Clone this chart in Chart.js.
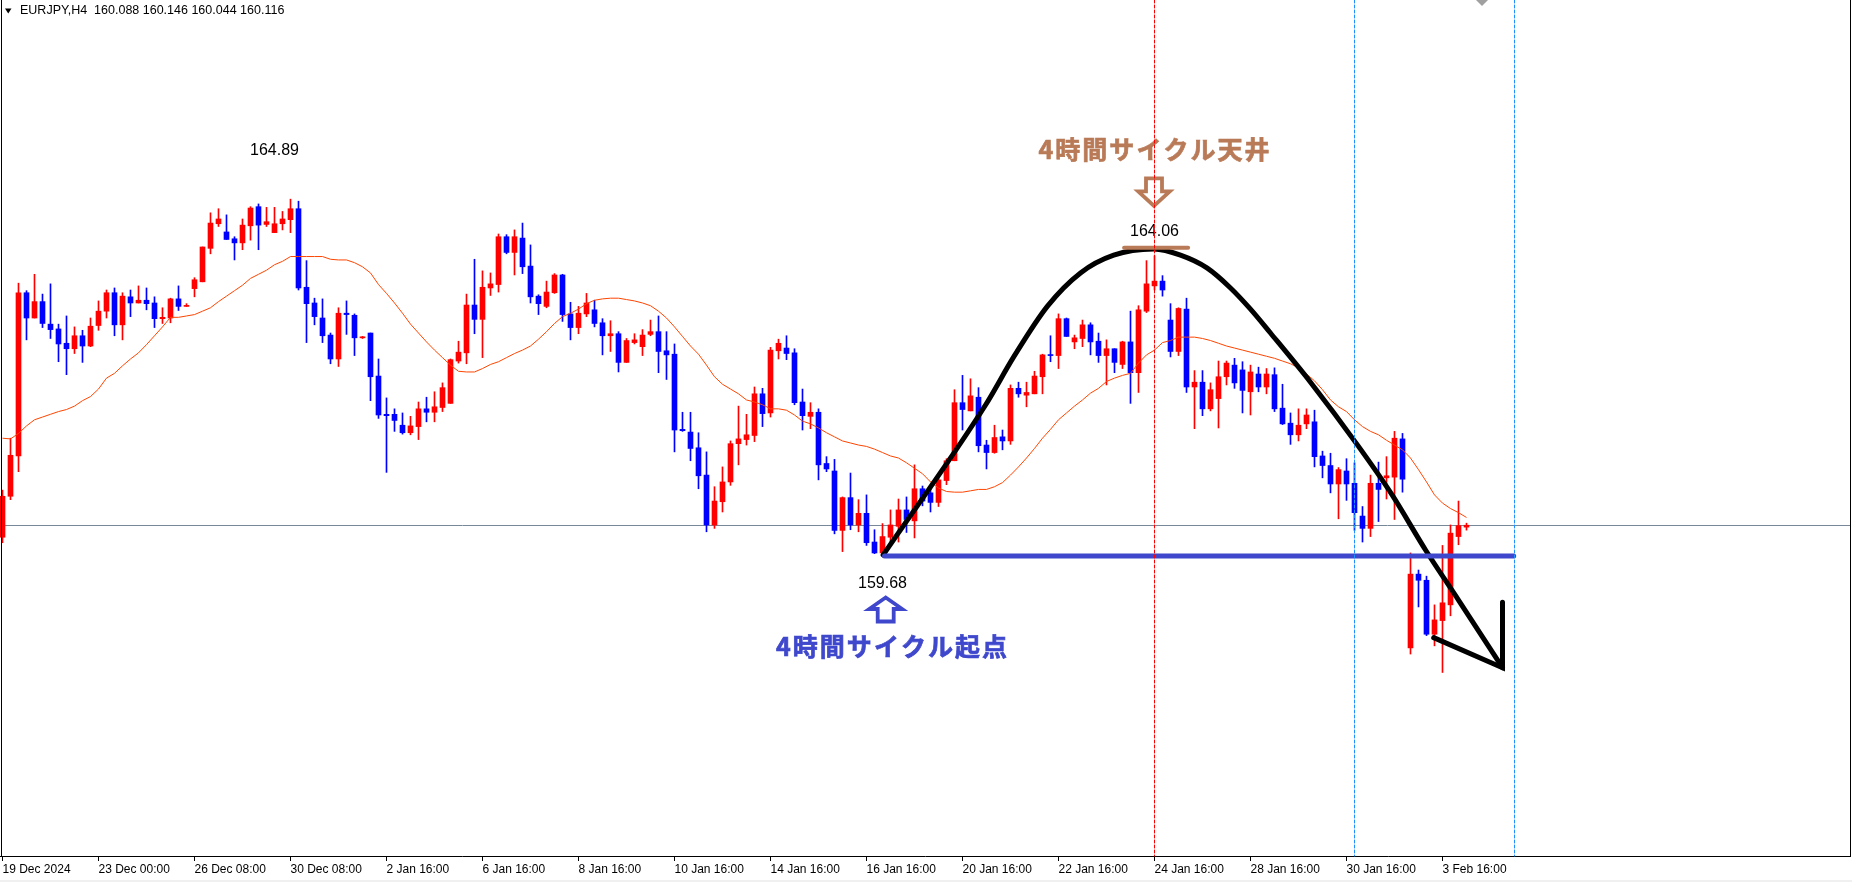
<!DOCTYPE html>
<html>
<head>
<meta charset="utf-8">
<script src="https://cdn.jsdelivr.net/npm/chart.js@4.4.1/dist/chart.umd.min.js"></script>
<style>
html, body { margin: 0; padding: 0; background: #fff; }
#chartBox { position: relative; width: 1852px; height: 882px; }
</style>
</head>
<body>
<div id="chartBox"><canvas id="myChart"></canvas></div>
<script>
// EURJPY H4 candles, bar 0 = 19 Dec 2024 00:00
const opens = [
159.94,160.54,161.13,163.52,163.15,163.39,163.06,162.99,162.78,162.70,
162.89,162.74,163.04,163.25,163.52,163.05,163.46,163.37,163.41,163.37,
163.14,163.15,163.43,163.32,163.58,163.68,164.17,164.53,164.41,164.31,
164.25,164.50,164.78,164.52,164.40,164.53,164.59,164.75,163.60,163.37,
163.15,162.90,162.55,163.22,163.19,162.86,162.93,162.30,161.74,161.74,
161.58,161.47,161.56,161.82,161.77,161.84,161.90,162.52,162.64,163.34,
163.13,163.59,163.64,164.34,164.11,164.32,163.91,163.47,163.32,163.52,
163.78,163.21,163.01,163.21,163.27,163.08,162.89,162.92,162.50,162.79,
162.73,162.91,162.95,162.67,162.62,161.52,161.48,161.25,160.85,160.12,
160.46,160.75,161.31,161.37,161.43,162.04,161.76,162.67,162.71,162.64,
161.92,161.71,161.77,161.02,160.91,160.04,160.52,160.12,160.29,159.87,
159.71,159.94,160.10,160.34,160.18,160.65,160.59,160.45,160.77,161.06,
161.91,161.79,161.99,161.29,161.18,161.41,161.35,162.12,162.02,162.04,
162.29,162.61,162.60,163.14,162.80,162.85,163.05,162.81,162.60,162.70,
162.47,162.80,162.35,163.25,163.62,163.69,163.12,162.66,163.28,162.14,
162.21,161.82,161.97,162.29,162.46,162.39,162.07,162.33,162.14,162.32,
161.83,161.61,161.44,161.60,161.63,161.13,160.99,160.72,160.91,160.73,
160.25,160.07,160.73,160.81,160.82,161.38,158.32,159.40,159.31,158.52,
158.72,158.95,159.95,160.088];
const highs = [
160.63,161.39,163.66,163.55,163.79,163.50,163.65,163.06,163.18,163.02,
162.97,163.15,163.40,163.56,163.59,163.52,163.56,163.62,163.59,163.46,
163.30,163.44,163.62,163.36,163.74,164.19,164.69,164.75,164.66,164.34,
164.60,164.78,164.82,164.77,164.77,164.71,164.89,164.86,163.99,163.44,
163.43,162.93,163.30,163.40,163.21,162.88,162.93,162.55,161.98,161.82,
161.76,161.71,161.92,161.99,162.07,162.20,162.55,162.81,163.50,164.01,
163.84,163.81,164.38,164.37,164.44,164.54,164.22,163.49,163.69,163.80,
163.79,163.38,163.32,163.51,163.41,163.14,163.11,162.95,162.85,162.92,
162.98,163.12,163.18,162.95,162.77,161.77,161.77,161.47,161.19,160.68,
160.97,161.35,161.86,161.74,162.14,162.12,162.72,162.84,162.89,162.70,
162.11,161.91,161.82,161.12,161.08,160.53,160.88,160.49,160.56,160.05,
160.14,160.34,160.50,160.53,161.00,160.69,160.69,160.81,161.09,162.10,
162.31,162.26,162.13,161.36,161.58,161.51,162.17,162.21,162.21,162.37,
162.62,162.89,163.21,163.15,162.90,163.12,163.08,162.93,162.83,162.70,
162.81,163.25,163.33,163.99,164.06,163.77,163.36,163.30,163.44,162.38,
162.38,162.20,162.52,162.52,162.56,162.51,162.46,162.43,162.41,162.42,
162.18,161.76,161.82,161.82,161.80,161.20,161.17,160.96,161.09,161.03,
160.39,160.85,161.04,161.12,161.49,161.46,159.71,159.46,159.37,158.95,
159.82,160.12,160.47,160.146];
const lows = [
159.86,160.49,160.90,162.83,163.15,163.01,162.85,162.51,162.32,162.63,
162.50,162.73,162.97,163.15,162.89,162.83,163.17,163.37,163.27,163.01,
163.07,163.08,163.26,163.32,163.46,163.68,164.09,164.49,164.30,164.00,
164.15,164.29,164.15,164.49,164.40,164.44,164.40,163.56,162.79,163.05,
162.79,162.48,162.44,162.91,162.60,162.85,161.94,161.68,160.89,161.49,
161.45,161.44,161.37,161.63,161.63,161.78,161.90,162.49,162.48,162.92,
162.57,163.48,163.53,164.09,163.78,163.80,163.37,163.20,163.30,163.51,
163.10,162.83,162.92,163.17,163.02,162.61,162.66,162.36,162.50,162.77,
162.60,162.89,162.35,162.25,161.19,161.49,161.06,160.65,160.02,160.07,
160.31,160.70,161.00,161.29,161.34,161.56,161.70,162.55,162.54,161.88,
161.51,161.53,160.78,160.90,159.99,159.73,160.05,160.02,159.82,159.70,
159.68,159.87,159.87,160.01,159.93,160.40,160.31,160.39,160.71,161.06,
161.51,161.79,161.19,160.94,161.17,161.22,161.30,161.99,161.85,162.04,
162.04,162.51,162.41,162.88,162.70,162.73,162.61,162.50,162.17,162.35,
162.41,161.90,162.06,163.23,163.56,163.47,162.58,162.60,162.06,161.53,
161.72,161.79,161.54,162.17,162.12,161.76,161.73,162.07,162.04,161.78,
161.59,161.30,161.35,161.53,160.97,160.81,160.59,160.21,160.48,160.04,
159.87,159.95,160.17,160.50,160.20,160.60,158.23,158.92,158.50,158.35,
157.96,158.79,159.83,160.044];
const closes = [
160.54,161.14,163.52,163.15,163.39,163.07,162.98,162.77,162.70,162.89,
162.74,163.03,163.25,163.52,163.05,163.47,163.37,163.41,163.36,163.14,
163.16,163.43,163.32,163.33,163.71,164.19,164.54,164.60,164.30,164.25,
164.51,164.76,164.51,164.56,164.53,164.60,164.75,163.59,163.36,163.17,
162.89,162.55,163.22,163.20,162.86,162.87,162.29,161.73,161.72,161.65,
161.47,161.57,161.82,161.77,161.85,162.13,162.54,162.65,163.34,163.13,
163.60,163.65,164.34,164.11,164.34,163.90,163.46,163.36,163.53,163.78,
163.20,163.01,163.22,163.37,163.07,162.89,162.92,162.50,162.82,162.83,
162.90,162.95,162.66,162.61,161.51,161.50,161.24,160.84,160.12,160.47,
160.75,161.31,161.38,161.44,162.04,161.75,162.68,162.78,162.63,161.91,
161.72,161.77,161.00,160.94,160.04,160.52,160.12,160.29,159.86,159.71,
159.95,160.12,160.34,160.20,160.65,160.47,160.45,160.78,161.06,161.91,
161.81,162.01,161.28,161.18,161.40,161.35,162.12,162.04,162.06,162.30,
162.61,162.60,163.14,162.88,162.86,163.05,162.80,162.60,162.70,162.50,
162.80,162.35,163.27,163.65,163.69,163.56,162.66,163.29,162.14,162.21,
161.82,162.10,162.29,162.49,162.20,162.09,162.36,162.14,162.33,161.82,
161.60,161.44,161.58,161.73,161.12,160.99,160.72,160.93,160.72,160.30,
160.07,160.73,160.64,160.84,161.39,160.79,159.40,159.31,158.52,158.73,
158.98,160.00,160.11,160.116];
// moving average line
const maValues = [
161.39,161.38,161.46,161.57,161.66,161.70,161.74,161.78,161.81,161.86,
161.94,162.00,162.11,162.27,162.34,162.45,162.55,162.64,162.76,162.89,
163.02,163.16,163.16,163.18,163.20,163.25,163.30,163.39,163.47,163.55,
163.63,163.73,163.79,163.85,163.93,163.98,164.05,164.05,164.05,164.05,
164.05,164.01,164.00,164.00,163.96,163.90,163.81,163.64,163.51,163.37,
163.22,163.06,162.93,162.80,162.68,162.57,162.46,162.37,162.36,162.36,
162.41,162.47,162.51,162.57,162.63,162.68,162.74,162.84,162.95,163.07,
163.17,163.22,163.28,163.36,163.41,163.43,163.44,163.44,163.42,163.40,
163.37,163.33,163.25,163.15,163.02,162.88,162.74,162.62,162.46,162.29,
162.18,162.11,162.04,161.95,161.92,161.88,161.82,161.82,161.80,161.73,
161.64,161.60,161.54,161.47,161.41,161.35,161.32,161.29,161.27,161.23,
161.18,161.13,161.10,161.03,160.95,160.87,160.75,160.66,160.61,160.60,
160.60,160.62,160.64,160.64,160.68,160.74,160.85,160.97,161.10,161.24,
161.39,161.52,161.66,161.76,161.86,161.95,162.05,162.12,162.22,162.27,
162.31,162.34,162.49,162.61,162.68,162.79,162.82,162.87,162.87,162.87,
162.85,162.82,162.78,162.74,162.71,162.68,162.65,162.62,162.59,162.56,
162.52,162.48,162.42,162.33,162.23,162.10,161.95,161.85,161.78,161.66,
161.56,161.49,161.44,161.36,161.29,161.22,161.10,160.93,160.75,160.56,
160.44,160.36,160.30,160.23];

const tickBars = [0,12,24,36,48,60,72,84,96,108,120,132,144,156,168,180];
const tickLabels = ['19 Dec 2024','23 Dec 00:00','26 Dec 08:00','30 Dec 08:00','2 Jan 16:00','6 Jan 16:00',
  '8 Jan 16:00','10 Jan 16:00','14 Jan 16:00','16 Jan 16:00','20 Jan 16:00','22 Jan 16:00',
  '24 Jan 16:00','28 Jan 16:00','30 Jan 16:00','3 Feb 16:00'];

// hand drawn cycle arc and arrow head (bar index, price)
const arcBars   = [110.08,122.9,126.4,130.6,134.75,138.9,143.9,147.25,150.6,153.5,156.0,158.5,163.5,169.5,173.7,177.9,182.0,187.5];
const arcPrices = [159.68,161.88,162.58,163.32,163.81,164.07,164.16,164.07,163.88,163.59,163.28,162.93,162.21,161.27,160.56,159.75,159.02,158.03];
const arrowBars   = [178.9,187.5,187.5];
const arrowPrices = [158.47,158.03,158.99];

const bidPrice = 160.116;
const symbolText = 'EURJPY,H4  160.088 160.146 160.044 160.116';
const highLabel = {bar: 34, price: 164.89, text: '164.89'};
const topLabel = {bar: 144, price: 164.06, text: '164.06'};
const lowLabel = {bar: 110, price: 159.68, text: '159.68'};
const startLine = {fromBar: 110.25, toBar: 188.9, price: 159.665};
const topLine = {fromBar: 140.2, toBar: 148.2, price: 164.18};
const vLineRed = [144];
const vLinesBlue = [169, 189];
const topText = '4時間サイクル天井';
const bottomText = '4時間サイクル起点';

const RED = '#FF0000', BLUE = '#0000FF';
const BROWN = '#B97A57', INDIGO = '#3F48CC';
const candleColors = opens.map((o, i) => closes[i] >= o ? RED : BLUE);

function hollowArrow(ctx, cx, tipY, dir, headHalf, shaftHalf, headLen, totalLen) {
    const b = tipY - dir * headLen, e = tipY - dir * totalLen;
    ctx.beginPath();
    ctx.moveTo(cx, tipY);
    ctx.lineTo(cx + headHalf, b);
    ctx.lineTo(cx + shaftHalf, b);
    ctx.lineTo(cx + shaftHalf, e);
    ctx.lineTo(cx - shaftHalf, e);
    ctx.lineTo(cx - shaftHalf, b);
    ctx.lineTo(cx - headHalf, b);
    ctx.closePath();
    ctx.stroke();
}

function vDotted(ctx, px, top, bottom, color) {
    ctx.save();
    ctx.strokeStyle = color;
    ctx.lineWidth = 1;
    ctx.setLineDash([3, 2]);
    ctx.beginPath();
    ctx.moveTo(Math.floor(px) + 0.5, top);
    ctx.lineTo(Math.floor(px) + 0.5, bottom);
    ctx.stroke();
    ctx.restore();
}

function boldText(ctx, text, cx, cy, color) {
    ctx.fillStyle = color;
    ctx.strokeStyle = color;
    ctx.lineWidth = 0.7;
    ctx.fillText(text, cx, cy);
    ctx.strokeText(text, cx, cy);
}

const overlay = {
    id: 'overlay',
    beforeDraw(c) {
        const ctx = c.ctx;
        ctx.save();
        ctx.fillStyle = '#fff';
        ctx.fillRect(0, 0, c.width, c.height);
        ctx.fillStyle = '#F0F0F0';
        ctx.fillRect(0, 880, c.width, 2);
        ctx.restore();
    },
    beforeDatasetsDraw(c) {
        const {ctx, chartArea: a, scales: {y}} = c;
        ctx.save();
        ctx.strokeStyle = '#778899';
        ctx.lineWidth = 1;
        const yb = Math.round(y.getPixelForValue(bidPrice)) + 0.5;
        ctx.beginPath(); ctx.moveTo(a.left, yb); ctx.lineTo(a.right, yb); ctx.stroke();
        ctx.restore();
    },
    afterDatasetsDraw(c) {
        const {ctx, chartArea: a, scales: {x, y}} = c;
        ctx.save();

        // start line and top line
        ctx.lineCap = 'round';
        ctx.strokeStyle = INDIGO; ctx.lineWidth = 5;
        ctx.beginPath();
        ctx.moveTo(x.getPixelForValue(startLine.fromBar), y.getPixelForValue(startLine.price));
        ctx.lineTo(x.getPixelForValue(startLine.toBar), y.getPixelForValue(startLine.price));
        ctx.stroke();
        ctx.strokeStyle = BROWN; ctx.lineWidth = 4;
        ctx.beginPath();
        ctx.moveTo(x.getPixelForValue(topLine.fromBar), y.getPixelForValue(topLine.price));
        ctx.lineTo(x.getPixelForValue(topLine.toBar), y.getPixelForValue(topLine.price));
        ctx.stroke();

        // price labels
        ctx.font = '16px "Liberation Sans", Arial, sans-serif';
        ctx.fillStyle = '#000';
        ctx.textAlign = 'center';
        ctx.textBaseline = 'middle';
        ctx.fillText(highLabel.text, x.getPixelForValue(highLabel.bar), y.getPixelForValue(highLabel.price) - 49);
        ctx.fillText(topLabel.text, x.getPixelForValue(topLabel.bar), y.getPixelForValue(topLabel.price) - 24);
        ctx.fillText(lowLabel.text, x.getPixelForValue(lowLabel.bar), y.getPixelForValue(lowLabel.price) + 28.5);

        // japanese notes
        ctx.font = 'bold 25px "Noto Sans CJK JP", sans-serif';
        ctx.letterSpacing = '2px';
        boldText(ctx, topText, x.getPixelForValue(topLabel.bar) + 0.5, y.getPixelForValue(topLabel.price) - 106, BROWN);
        boldText(ctx, bottomText, x.getPixelForValue(lowLabel.bar) + 10, y.getPixelForValue(lowLabel.price) + 91, INDIGO);
        ctx.letterSpacing = '0px';

        // hollow arrows
        ctx.lineWidth = 3.8;
        ctx.lineJoin = 'miter';
        ctx.strokeStyle = BROWN;
        hollowArrow(ctx, x.getPixelForValue(topLabel.bar) - 0.5, y.getPixelForValue(topLabel.price) - 50, 1, 15.8, 8, 14.5, 27.5);
        ctx.strokeStyle = INDIGO;
        hollowArrow(ctx, x.getPixelForValue(lowLabel.bar) + 3.2, y.getPixelForValue(lowLabel.price) + 42.5, -1, 16.5, 8, 11.5, 24);

        // vertical dotted lines
        vLineRed.forEach(b => vDotted(ctx, x.getPixelForValue(b), a.top, a.bottom, '#FF0000'));
        vLinesBlue.forEach(b => vDotted(ctx, x.getPixelForValue(b), a.top, a.bottom, '#1E90FF'));

        // frame
        ctx.strokeStyle = '#000'; ctx.lineWidth = 1;
        ctx.beginPath();
        ctx.moveTo(1.5, a.top); ctx.lineTo(1.5, a.bottom);
        ctx.moveTo(a.right + 0.5, a.top); ctx.lineTo(a.right + 0.5, a.bottom);
        ctx.stroke();

        // header
        ctx.fillStyle = '#000';
        ctx.beginPath();
        ctx.moveTo(5, 8.5); ctx.lineTo(11.5, 8.5); ctx.lineTo(8.25, 13.5); ctx.closePath();
        ctx.fill();
        ctx.font = '12.5px "Liberation Sans", Arial, sans-serif';
        ctx.textAlign = 'left';
        ctx.fillText(symbolText, 20, 11);

        // chart shift marker
        ctx.fillStyle = '#A0A0A0';
        ctx.beginPath();
        ctx.moveTo(1476, 0); ctx.lineTo(1488, 0); ctx.lineTo(1482, 6); ctx.closePath();
        ctx.fill();
        ctx.restore();
    }
};

const chart = new Chart('myChart', {
    type: 'bar',
    data: {
        datasets: [{
            type: 'line',
            data: arrowBars.map((b, i) => ({x: b, y: arrowPrices[i]})),
            borderColor: '#000', borderWidth: 5, pointRadius: 0, tension: 0,
            borderJoinStyle: 'miter', borderCapStyle: 'round', fill: false, order: 1
        }, {
            type: 'line',
            data: arcBars.map((b, i) => ({x: b, y: arcPrices[i]})),
            borderColor: '#000', borderWidth: 5, pointRadius: 0,
            cubicInterpolationMode: 'monotone', borderCapStyle: 'round', fill: false, order: 2
        }, {
            type: 'line',
            data: maValues.map((v, i) => ({x: i, y: v})),
            borderColor: '#FF4500', borderWidth: 1, pointRadius: 0, tension: 0, fill: false, order: 3
        }, {
            data: opens.map((o, i) => ({x: i, y: [Math.min(o, closes[i]), Math.max(o, closes[i])]})),
            backgroundColor: candleColors, borderWidth: 0,
            barThickness: 5, minBarLength: 1, grouped: false, order: 4
        }, {
            data: opens.map((o, i) => ({x: i, y: [lows[i], highs[i]]})),
            backgroundColor: candleColors, borderWidth: 0,
            barThickness: 1, grouped: false, order: 5
        }]
    },
    options: {
        responsive: true,
        maintainAspectRatio: false,
        animation: false,
        layout: {padding: {left: 0, right: 2, top: 0, bottom: 0}},
        plugins: {legend: {display: false}, tooltip: {enabled: false}},
        scales: {
            x: {
                type: 'linear', min: -0.3125, max: 230.9375, offset: false, bounds: 'data',
                grid: {offset: false, drawOnChartArea: false, drawTicks: true, tickLength: 5, color: '#000'},
                border: {display: true, color: '#000', width: 1},
                ticks: {
                    autoSkip: false, maxRotation: 0, minRotation: 0, align: 'start', padding: 1,
                    color: '#000', font: {family: '"Liberation Sans", Arial, sans-serif', size: 12},
                    callback: (v) => { const k = tickBars.indexOf(v); return k >= 0 ? tickLabels[k] : ''; }
                },
                afterBuildTicks: (axis) => { axis.ticks = tickBars.map(v => ({value: v})); },
                afterFit: (axis) => { axis.height = 26; }
            },
            y: {type: 'linear', display: false, min: 155.273, max: 167.806, bounds: 'data'}
        }
    },
    plugins: [overlay]
});
</script>
</body>
</html>
